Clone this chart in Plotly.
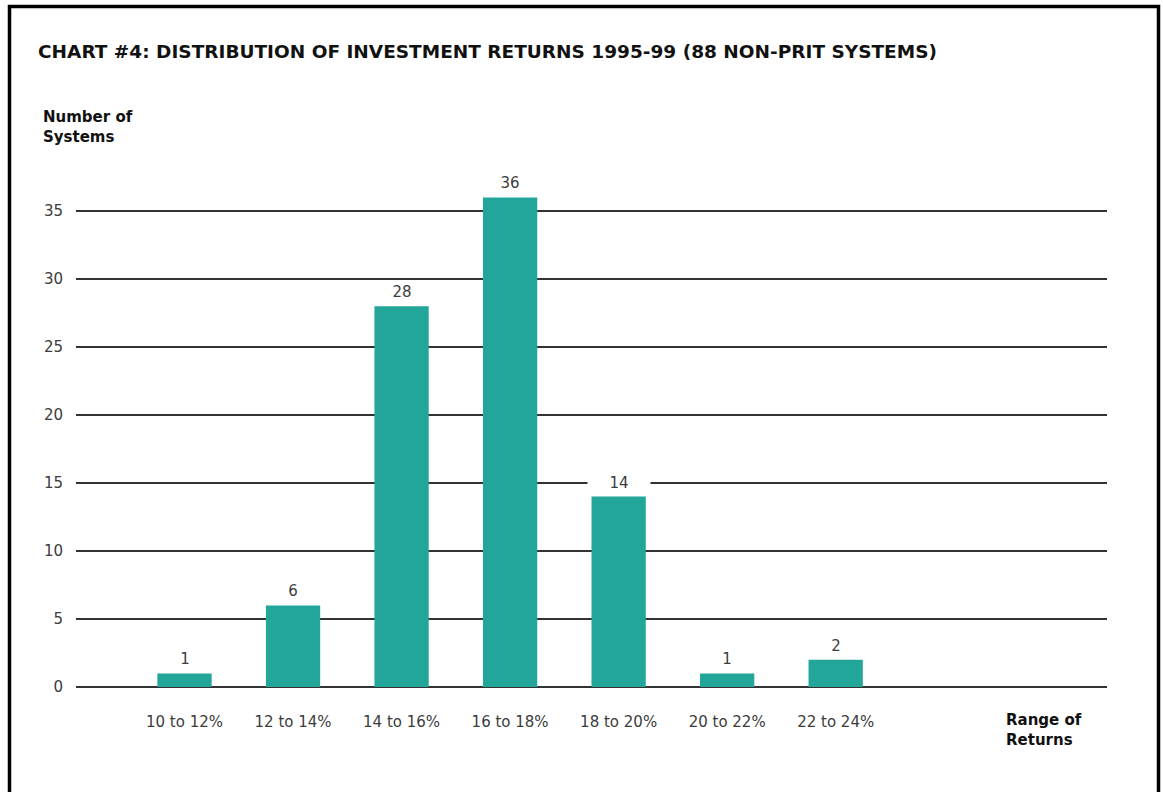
import plotly.graph_objects as go

# Distribution of five-year investment returns, 88 non-PRIT systems
categories = ["10 to 12%", "12 to 14%", "14 to 16%", "16 to 18%",
              "18 to 20%", "20 to 22%", "22 to 24%"]
systems = [1, 6, 28, 36, 14, 1, 2]
y_ticks = [0, 5, 10, 15, 20, 25, 30, 35]

BAR_COLOR = "#22a699"
GRID_COLOR = "#333333"
TEXT_COLOR = "#3c3c3c"
FONT = "DejaVu Sans"

W, H = 1163, 792
M_L, M_R, M_T, M_B = 76, 56, 143, 105
plot_w = W - M_L - M_R
plot_h = H - M_T - M_B


def px_to_paper_x(px):
    return (px - M_L) / plot_w


def px_to_paper_y(py):
    return (H - M_B - py) / plot_h


fig = go.Figure(
    go.Bar(
        x=list(range(len(categories))),
        y=systems,
        width=0.5,
        marker=dict(color=BAR_COLOR, line=dict(width=0)),
        hoverinfo="skip",
    )
)

# value labels above each bar, on a white box that breaks the gridline
for i, v in enumerate(systems):
    fig.add_annotation(
        x=i, y=v, xref="x", yref="y",
        text=str(v), showarrow=False,
        yanchor="bottom", yshift=3,
        width=60, bgcolor="white", borderpad=1,
        font=dict(family=FONT, size=15, color=TEXT_COLOR),
    )

# axis captions
fig.add_annotation(
    xref="paper", yref="paper",
    x=px_to_paper_x(41), y=px_to_paper_y(106),
    xanchor="left", yanchor="top", align="left",
    text="<b>Number of<br>Systems</b>", showarrow=False,
    font=dict(family=FONT, size=15, color="#111111"),
)
fig.add_annotation(
    xref="paper", yref="paper",
    x=px_to_paper_x(1004), y=px_to_paper_y(709),
    xanchor="left", yanchor="top", align="left",
    text="<b>Range of<br>Returns</b>", showarrow=False,
    font=dict(family=FONT, size=15, color="#111111"),
)

# frame around the chart (open at the bottom edge of the page)
fig.add_shape(
    type="path", xref="paper", yref="paper",
    path=(f"M {px_to_paper_x(9.5)} {px_to_paper_y(800)} "
          f"L {px_to_paper_x(9.5)} {px_to_paper_y(6.5)} "
          f"L {px_to_paper_x(1158.5)} {px_to_paper_y(6.5)} "
          f"L {px_to_paper_x(1158.5)} {px_to_paper_y(800)}"),
    line=dict(color="black", width=3.5),
)

fig.update_layout(
    width=W, height=H,
    margin=dict(l=M_L, r=M_R, t=M_T, b=M_B, pad=0),
    paper_bgcolor="white", plot_bgcolor="white",
    showlegend=False,
    title=dict(
        text="<b>CHART #4: DISTRIBUTION OF INVESTMENT RETURNS 1995-99 (88 NON-PRIT SYSTEMS)</b>",
        x=38 / W, xanchor="left", xref="container",
        y=1 - 52 / H, yanchor="middle", yref="container",
        font=dict(family=FONT, size=18.5, color="#111111"),
    ),
    xaxis=dict(
        range=[-1.0, 8.5],
        tickvals=list(range(len(categories))),
        ticktext=categories,
        showgrid=False, showline=False, zeroline=False,
        ticks="", ticklabelstandoff=24,
        tickfont=dict(family=FONT, size=15, color=TEXT_COLOR),
        fixedrange=True,
    ),
    yaxis=dict(
        range=[0, 40],
        tickvals=y_ticks,
        showgrid=True, gridcolor=GRID_COLOR, gridwidth=1.6,
        zeroline=True, zerolinecolor=GRID_COLOR, zerolinewidth=1.6,
        showline=False, ticks="", ticklabelstandoff=12,
        tickfont=dict(family=FONT, size=15, color=TEXT_COLOR),
        fixedrange=True,
    ),
    font=dict(family=FONT),
)

fig.write_html("out.html", config={"displayModeBar": False})
